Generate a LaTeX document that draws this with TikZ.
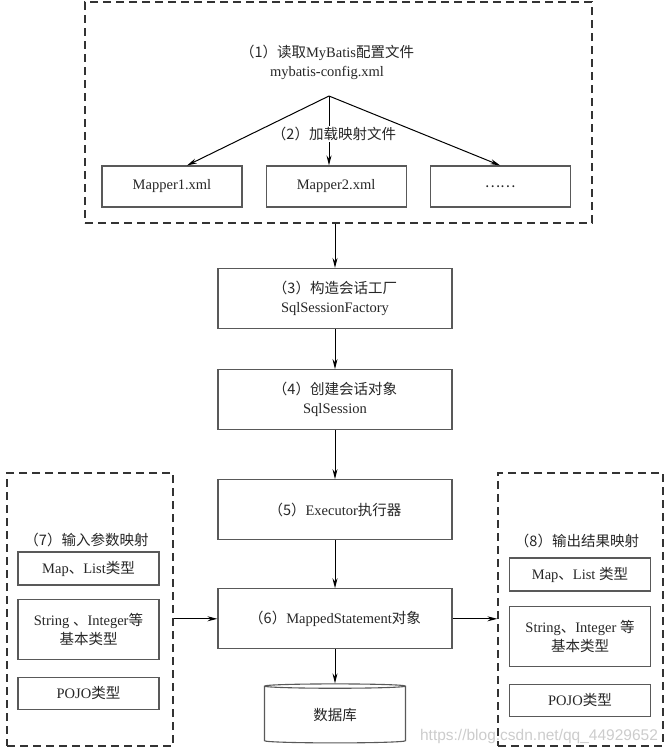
\documentclass[tikz,border=0pt]{standalone}
\usepackage{fontspec}
\setmainfont{Liberation Serif}
\newfontfamily\cjk{Noto Sans CJK SC}
\newfontfamily\marca{Liberation Sans}
\newcommand{\zw}[1]{{\cjk #1}}
\usetikzlibrary{positioning, arrows.meta, shapes.geometric}

\begin{document}
\begin{tikzpicture}[x=1pt, y=-1pt, ->, >={Stealth[length=10pt,width=5pt]},
                  line width=1pt, text=black!85,
                  every node/.style={font=\fontsize{14.5}{19}\selectfont},
                  caja/.style={draw=black!65, line width=1.1pt, rectangle,
                      inner sep=0pt, align=center, minimum width=234pt,
                      minimum height=60pt},
                  mapper/.style={caja, minimum width=140pt, minimum height=41pt},
                  tipo/.style={caja, minimum width=141pt},
                  punteada/.style={draw=black!80, line width=1.3pt,
                      dash pattern=on 8pt off 5pt, rectangle, inner sep=0pt},
                  bd/.style={cylinder, shape border rotate=90, aspect=0.1,
                      draw=black!65, line width=1.1pt, inner sep=0pt,
                      minimum width=141pt, minimum height=59pt}]

                  \useasboundingbox (0,0) rectangle (671,755);

                  % Bloque de configuracion y ficheros de mapeo.
                  \node[punteada, minimum width=507pt, minimum height=221pt]
                  (cfg) at (338.5,112.5) {};
                  \node[align=center] (leer) at (327,62)
                  {\zw{（1）读取}MyBatis\zw{配置文件}\\mybatis-config.xml};
                  \coordinate (apex) at (329,96);
                  \node[mapper] (m1) at (172,186.5) {Mapper1.xml};
                  \node[mapper, right=23pt of m1] (m2) {Mapper2.xml};
                  \node[mapper, right=23pt of m2] (m3) {\zw{……}};

                  \draw (apex) -- ([xshift=15pt]m1.north);
                  \draw (apex) -- (apex |- m2.north);
                  \draw (apex) -- (m3.north);
                  \node[fill=white, inner sep=1pt] (carga) at (334,134)
                  {\zw{（2）加载映射文件}};

                  % Columna central.
                  \node[caja] (fac) at (335,298.5)
                  {\zw{（3）构造会话工厂}\\SqlSessionFactory};
                  \node[caja, below=40pt of fac] (ses)
                  {\zw{（4）创建会话对象}\\SqlSession};
                  \node[caja, below=49pt of ses] (exe)
                  {\zw{（5）}Executor\zw{执行器}};
                  \node[caja, below=48pt of exe] (ms)
                  {\zw{（6）}MappedStatement\zw{对象}};
                  \node[bd, below=34pt of ms] (db) {\zw{数据库}};

                  % Mapeo de entrada.
                  \node[punteada, minimum width=166pt, minimum height=273pt]
                  (ent) at (90,609.5) {};
                  \node (lent) at (86.5,540) {\zw{（7）输入参数映射}};
                  \node[tipo, minimum height=33pt] (e1) at (88.5,568.5)
                  {Map\zw{、}List\zw{类型}};
                  \node[tipo, below=13pt of e1] (e2)
                  {String \zw{、}Integer\zw{等}\\\zw{基本类型}};
                  \node[tipo, minimum height=32pt, below=17pt of e2] (e3)
                  {POJO\zw{类型}};

                  % Mapeo de salida.
                  \node[punteada, minimum width=165pt, minimum height=273pt]
                  (sal) at (580.5,609.5) {};
                  \node (lsal) at (577,541) {\zw{（8）输出结果映射}};
                  \node[tipo, minimum height=33pt] (s1) at (580,574.5)
                  {Map\zw{、}List \zw{类型}};
                  \node[tipo, below=14pt of s1] (s2)
                  {String\zw{、}Integer \zw{等}\\\zw{基本类型}};
                  \node[tipo, minimum height=32pt, below=17pt of s2] (s3)
                  {POJO\zw{类型}};

                  % Flechas del flujo.
                  \draw (cfg.south -| fac) -- (fac);
                  \draw (fac) -- (ses);
                  \draw (ses) -- (exe);
                  \draw (exe) -- (ms);
                  \draw (ms) -- (db);
                  \draw (ent.east |- ms) -- (ms);
                  \draw (ms) -- (ms -| sal.west);

                  % Marca de agua.
                  \node[font=\marca\fontsize{15.5}{19}\selectfont, text=black!20]
                  (wm) at (539,736) {https://blog.csdn.net/qq\_44929652};

                \end{tikzpicture}
\end{document}
